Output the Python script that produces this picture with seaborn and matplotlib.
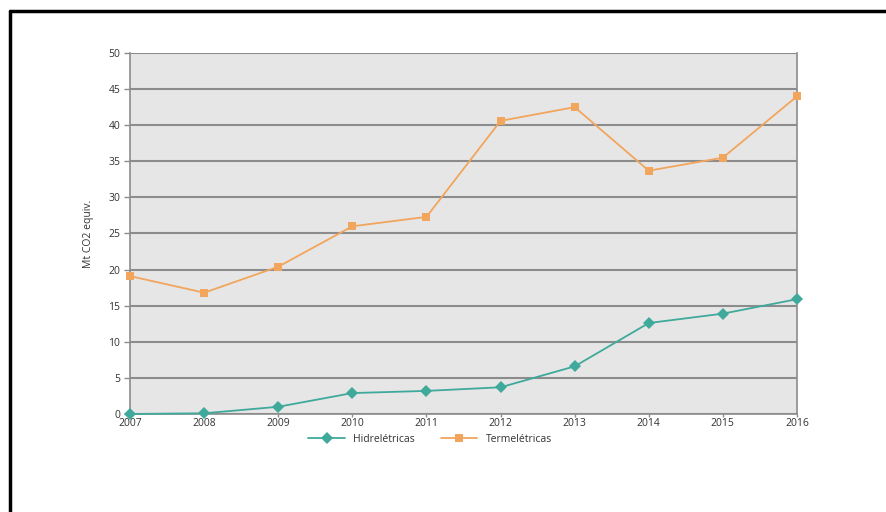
import matplotlib
matplotlib.use("Agg")
import matplotlib.pyplot as plt
import matplotlib.lines as mlines
import seaborn as sns
import pandas as pd

years = [2007, 2008, 2009, 2010, 2011, 2012, 2013, 2014, 2015, 2016]
hidreletricas = [0.0, 0.1, 1.0, 2.9, 3.2, 3.7, 6.6, 12.6, 13.9, 15.9]
termeletricas = [19.1, 16.8, 20.4, 26.0, 27.3, 40.6, 42.5, 33.7, 35.5, 44.0]
series_names = ["Hidrelétricas", "Termelétricas"]
colors = ["#3fa99b", "#f2a55c"]

df = pd.DataFrame({
    "ano": years * 2,
    "valor": hidreletricas + termeletricas,
    "serie": [series_names[0]] * len(years) + [series_names[1]] * len(years),
})

sns.set_theme(style="white")
plt.rcParams["font.family"] = ["Open Sans", "DejaVu Sans"]

fig = plt.figure(figsize=(8.87, 5.12), dpi=100)
ax = fig.add_axes([0.1466, 0.1914, 0.7519, 0.7051])
ax.set_facecolor("#e6e6e6")

sns.lineplot(data=df, x="ano", y="valor", hue="serie", style="serie",
             markers={series_names[0]: "D", series_names[1]: "s"},
             dashes=False, palette=dict(zip(series_names, colors)),
             markersize=6, linewidth=1.3, markeredgewidth=0, ax=ax, legend=False)
for line in ax.lines:
    line.set_clip_on(False)
    line.set_zorder(5)

ax.set_xlim(years[0], years[-1])
ax.set_ylim(0, 50)
ax.set_xticks(years)
ax.set_yticks(range(0, 51, 5))
ax.yaxis.grid(True, color="#8c8c8c", linewidth=1.5)
ax.set_axisbelow(True)
for side in ["left", "right"]:
    ax.spines[side].set_color("#8c8c8c")
    ax.spines[side].set_linewidth(1.2)
ax.spines["top"].set_visible(False)
ax.spines["bottom"].set_color("#8c8c8c")
ax.spines["bottom"].set_linewidth(1.2)
ax.tick_params(axis="both", width=1, color="#8c8c8c",
               labelsize=7.5, labelcolor="#333333")
ax.tick_params(axis="y", direction="out", left=True, length=4, pad=3)
ax.tick_params(axis="x", direction="out", bottom=True, length=2, pad=1)
ax.set_xlabel("")
ax.set_ylabel("Mt CO2 equiv.", fontsize=7.5, color="#333333", labelpad=10)

handles = [mlines.Line2D([], [], color=c, marker=m, markersize=6, linewidth=1.3, markeredgewidth=0)
           for c, m in zip(colors, ["D", "s"])]
fig.legend(handles, series_names, loc="center", bbox_to_anchor=(0.485, 0.142),
           ncol=2, frameon=False, fontsize=7.5, handlelength=3.5, columnspacing=2.5,
           labelcolor="#333333")

# partial frame around the chart (top and left edges)
fig.add_artist(mlines.Line2D([0.0113, 0.0113], [0, 0.978], transform=fig.transFigure,
                             color="black", linewidth=2.5))
fig.add_artist(mlines.Line2D([0.0113, 1.0], [0.978, 0.978], transform=fig.transFigure,
                             color="black", linewidth=2.5))

fig.savefig("out.png", dpi=100)
